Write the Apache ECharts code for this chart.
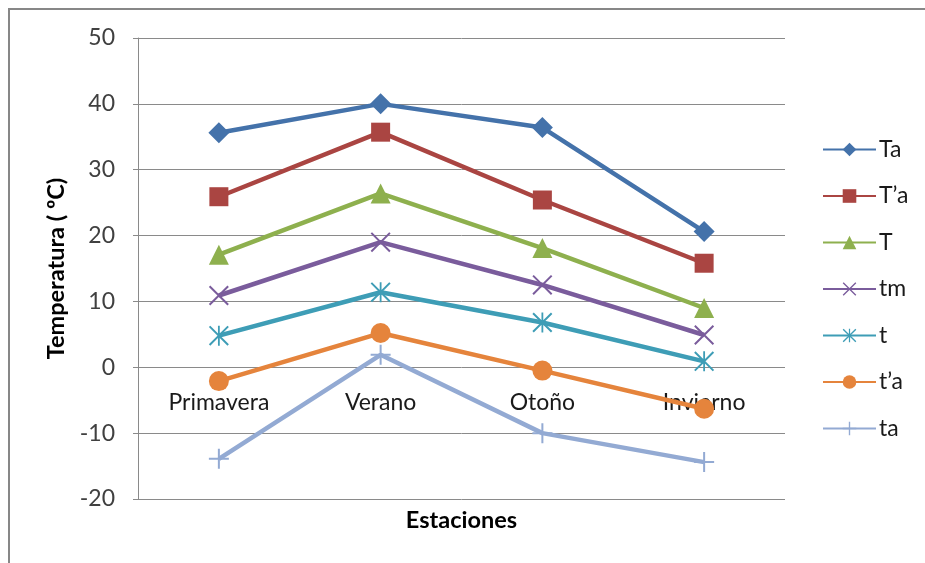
<!DOCTYPE html>
<html>
<head>
<meta charset="utf-8">
<script src="https://cdn.jsdelivr.net/npm/echarts@6/dist/echarts.min.js"></script>
<style>
  html, body { margin: 0; padding: 0; background: #ffffff; }
  #chart { width: 925px; height: 563px; }
</style>
</head>
<body>
<div id="chart"></div>
<script>
// Seasonal temperatures (ºC)
const estaciones = ['Primavera', 'Verano', 'Otoño', 'Invierno'];
const serieNames = ['Ta', 'T\u2019a', 'T', 'tm', 't', 't\u2019a', 'ta'];
const Ta   = [35.6, 40.0, 36.4, 20.6];
const Tpa  = [25.9, 35.7, 25.4, 15.8];
const T    = [17.1, 26.4, 18.1, 9.0];
const tm   = [10.9, 19.0, 12.5, 4.9];
const t    = [4.8, 11.4, 6.8, 0.9];
const tpa  = [-2.1, 5.2, -0.5, -6.3];
const ta   = [-13.9, 1.9, -10.0, -14.4];
const yTicks = [-20, -10, 0, 10, 20, 30, 40, 50];

const values = [Ta, Tpa, T, tm, t, tpa, ta];
const colors = ['#4472AA', '#AA4542', '#8EB04E', '#7A5C9C', '#3E9DB6', '#E5843C', '#93AAD3'];

// Thin stroked markers drawn as filled outlines in a 20x20 box
const crossPath = 'path://M0,1.4L1.4,0L20,18.6L18.6,20Z M18.6,0L20,1.4L1.4,20L0,18.6Z';
const starPath = 'path://M0,1.4L1.4,0L20,18.6L18.6,20Z M18.6,0L20,1.4L1.4,20L0,18.6Z M9.1,0H10.9V20H9.1Z';
const plusPath = 'path://M9,0H11V20H9Z M0,9H20V11H0Z';

const symbols = ['diamond', 'rect', 'triangle', crossPath, starPath, 'circle', plusPath];
const sizes = [21, 19, 20, 20, 20, 20, 20];

const FONT = 'Lato';

const chart = echarts.init(document.getElementById('chart'), null, { renderer: 'canvas' });

const series = values.map((data, i) => ({
  name: serieNames[i],
  type: 'line',
  data: data,
  symbol: symbols[i],
  symbolSize: sizes[i],
  showAllSymbol: true,
  lineStyle: { width: 4.5, color: colors[i] },
  itemStyle: { color: colors[i], borderWidth: 0 },
  emphasis: { disabled: true },
  z: 10 - i
}));

chart.setOption({
  animation: false,
  backgroundColor: '#ffffff',
  color: colors,
  textStyle: { fontFamily: FONT },
  graphic: [{
    type: 'rect',
    shape: { x: 9, y: 9, width: 960, height: 620 },
    style: { fill: 'none', stroke: '#878787', lineWidth: 2 },
    silent: true
  }],
  grid: { left: 138, right: 140, top: 38, bottom: 64, containLabel: false, outerBoundsMode: 'none' },
  legend: {
    orient: 'vertical',
    left: 817,
    top: 133,
    itemWidth: 53,
    itemHeight: 17,
    itemGap: 23.5,
    textStyle: { fontFamily: FONT, fontSize: 23, color: '#1a1a1a', padding: [0, 0, 0, -2] },
    data: serieNames
  },
  xAxis: {
    type: 'category',
    data: estaciones,
    boundaryGap: true,
    axisLine: { show: false },
    axisTick: { show: false },
    // category labels sit just under the zero line
    axisLabel: { fontFamily: FONT, fontSize: 23, color: '#1a1a1a', margin: -108 },
    name: 'Estaciones',
    nameLocation: 'middle',
    nameGap: 9,
    nameMoveOverlap: false,
    nameTextStyle: { fontFamily: FONT, fontSize: 23.5, fontWeight: 'bold', color: '#000000' },
    splitLine: { show: false }
  },
  yAxis: {
    type: 'value',
    min: yTicks[0],
    max: yTicks[yTicks.length - 1],
    interval: 10,
    axisLine: { show: true, lineStyle: { color: '#8a8a8a', width: 1 } },
    axisTick: { show: true, inside: false, length: 5, lineStyle: { color: '#8a8a8a' } },
    axisLabel: { fontFamily: FONT, fontSize: 23, color: '#404040', margin: 23 },
    splitLine: { show: true, lineStyle: { color: '#8a8a8a', width: 1 } },
    name: 'Temperatura ( ºC)',
    nameLocation: 'middle',
    nameRotate: 90,
    nameGap: 66,
    nameTextStyle: { fontFamily: FONT, fontSize: 23.5, fontWeight: 'bold', color: '#000000' }
  },
  series: series
});
</script>
</body>
</html>
